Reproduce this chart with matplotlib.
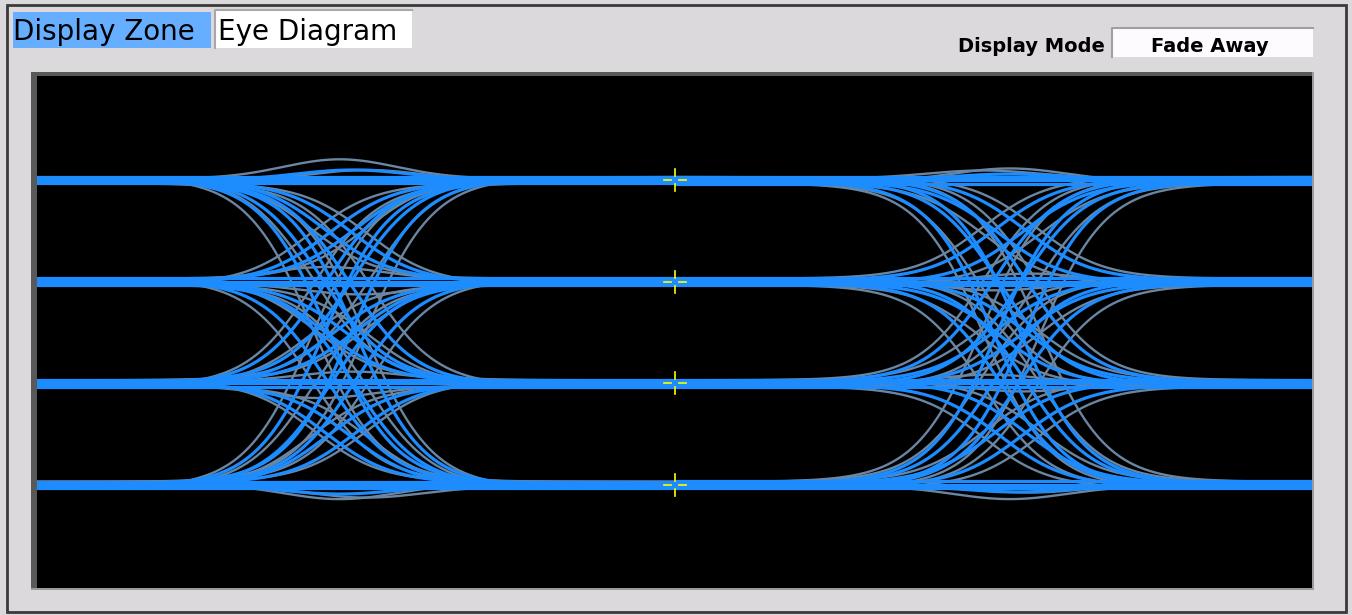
import matplotlib
matplotlib.use("Agg")
import matplotlib.pyplot as plt
from matplotlib.patches import Rectangle
import numpy as np

W, H = 1352, 615

# PAM4 levels (normalised amplitude), index 0 = lowest
levels = [-3.0, -1.0, 1.0, 3.0]
edge_times = [0.0, 1.0]          # the two crossings on screen, in UI
t_view = (-0.452, 1.451)
v_view = (-5.03, 5.05)
marker_t = 0.5                   # yellow sampling crosses
TAU = 0.05                       # edge time constant, UI

# traces through the first crossing, "ab" = level a -> level b
e1_path = ["33", "33", "33", "22", "22", "22", "11", "11", "11", "00", "00", "00",
           "32", "32", "31", "31", "30", "30", "23", "23", "21", "21", "20", "20",
           "13", "13", "12", "12", "10", "10", "03", "03", "02", "02", "01", "01", "33", "00",
           "33", "33", "22", "22", "11", "11", "00", "00",
           "32", "31", "30", "23", "21", "20", "13", "12", "10", "03", "02", "01",
           "32", "31", "30", "23", "21", "20", "13", "12", "10", "03", "02", "01"]
e1_shift = [0, 0, 0, 0, 0, 0, 0, 0, 0, 0, 0, 0,
            -0.022, 0.018, -0.025, 0.015, -0.018, 0.024, -0.015, 0.022, -0.024, 0.012, -0.018, 0.022,
            -0.022, 0.018, -0.012, 0.024, -0.022, 0.015, -0.024, 0.018, -0.015, 0.022, -0.018, 0.024, 0.02, 0.0,
            0.00, 0.04, -0.02, 0.03, 0.02, -0.03, 0.00, 0.04,
            -0.045, -0.040, -0.040, -0.045, -0.038, -0.042, -0.040, -0.045, -0.038, -0.042, -0.040, -0.045,
            0.042, 0.045, 0.038, 0.040, 0.044, 0.040, 0.045, 0.038, 0.042, 0.040, 0.045, 0.040]
e1_off = [0, 0.07, -0.06, 0, 0.07, -0.06, 0, 0.06, -0.07, 0, 0.06, -0.07,
          0.03, -0.03, 0.03, -0.03, 0.03, -0.03, -0.03, 0.03, 0.03, -0.03, 0.03, -0.03,
          -0.03, 0.03, -0.03, 0.03, 0.03, -0.03, -0.03, 0.03, -0.03, 0.03, -0.03, 0.03, 0, 0,
          0.03, -0.02, 0.04, -0.03, 0.03, -0.04, 0.02, -0.03,
          0.06, 0.06, 0.06, -0.06, 0.06, 0.06, -0.06, -0.06, 0.06, -0.06, -0.06, -0.06,
          -0.06, -0.06, -0.06, 0.06, -0.06, -0.06, 0.06, 0.06, -0.06, 0.06, 0.06, 0.06]
e1_bump = [0, 0, 0, 0, 0, 0, 0, 0, 0, 0, 0, 0,
           0, 0, 0, 0, 0, 0, 0, 0, 0, 0, 0, 0,
           0, 0, 0, 0, 0, 0, 0, 0, 0, 0, 0, 0, 0.2, -0.18,
           0.38, 0.22, 0.25, -0.22, 0.2, -0.25, -0.30, -0.22,
           0, 0, 0, 0, 0, 0, 0, 0, 0, 0, 0, 0,
           0, 0, 0, 0, 0, 0, 0, 0, 0, 0, 0, 0]

# traces through the second crossing
e2_path = e1_path
e2_shift = [0, 0, 0, 0, 0, 0, 0, 0, 0, 0, 0, 0,
            -0.018, 0.022, -0.015, 0.024, -0.024, 0.015, -0.022, 0.018, -0.018, 0.022, -0.012, 0.024,
            -0.024, 0.015, -0.022, 0.018, -0.015, 0.024, -0.018, 0.022, -0.024, 0.012, -0.022, 0.018, 0.0, 0.01,
            0.00, -0.04, 0.03, -0.02, -0.03, 0.02, 0.00, 0.03,
            -0.040, -0.044, -0.038, -0.042, -0.045, -0.040, -0.038, -0.044, -0.040, -0.042, -0.045, -0.038,
            0.040, 0.038, 0.044, 0.045, 0.040, 0.042, 0.038, 0.040, 0.045, 0.044, 0.040, 0.042]
e2_off = [0, 0.06, -0.07, 0, 0.07, -0.06, 0, 0.06, -0.07, 0, 0.07, -0.06,
          -0.03, 0.03, -0.03, 0.03, -0.03, 0.03, 0.03, -0.03, -0.03, 0.03, -0.03, 0.03,
          0.03, -0.03, 0.03, -0.03, -0.03, 0.03, 0.03, -0.03, 0.03, -0.03, 0.03, -0.03, 0, 0,
          -0.03, 0.03, -0.04, 0.03, -0.03, 0.04, -0.02, 0.03,
          -0.06, -0.06, -0.06, 0.06, -0.06, -0.06, 0.06, 0.06, -0.06, 0.06, 0.06, 0.06,
          0.06, 0.06, 0.06, -0.06, 0.06, 0.06, -0.06, -0.06, 0.06, -0.06, -0.06, -0.06]
e2_bump = [0, 0, 0, 0, 0, 0, 0, 0, 0, 0, 0, 0,
           0, 0, 0, 0, 0, 0, 0, 0, 0, 0, 0, 0,
           0, 0, 0, 0, 0, 0, 0, 0, 0, 0, 0, 0, 0.12, -0.14,
           0.26, 0.16, 0.2, -0.2, 0.2, -0.2, -0.26, -0.18,
           0, 0, 0, 0, 0, 0, 0, 0, 0, 0, 0, 0,
           0, 0, 0, 0, 0, 0, 0, 0, 0, 0, 0, 0]

# 0 = newest sweep (blue), 1 = faded sweep (grey)
trace_age = [0, 0, 0, 0, 0, 0, 0, 0, 0, 0, 0, 0,
             0, 0, 0, 0, 0, 0, 0, 0, 0, 0, 0, 0,
             0, 0, 0, 0, 0, 0, 0, 0, 0, 0, 0, 0, 0, 0,
             1, 1, 1, 1, 1, 1, 1, 1,
             1, 1, 1, 1, 1, 1, 1, 1, 1, 1, 1, 1,
             1, 1, 1, 1, 1, 1, 1, 1, 1, 1, 1, 1]

BLUE = "#1C8CFF"
GREY = "#6A86A2"
PANEL = "#DCD9DC"


def draw_edge(ax, t_edge, paths, shifts, offs, bumps, age):
    t = np.linspace(t_edge - 0.5, t_edge + 0.5, 400)
    for p, s, o, b, g in zip(paths, shifts, offs, bumps, trace_age):
        if g != age:
            continue
        a = levels[int(p[0])] + o
        z = levels[int(p[1])] + o
        u = t - t_edge - s
        v = a + (z - a) / (1 + np.exp(-u / TAU)) + b * np.exp(-(u / 0.12) ** 2)
        if g:
            ax.plot(t, v, color=GREY, lw=1.7, solid_capstyle="butt")
        else:
            ax.plot(t, v, color=BLUE, lw=2.3, solid_capstyle="butt")


fig = plt.figure(figsize=(W / 100, H / 100), dpi=100)
fig.patch.set_facecolor(PANEL)

# window furniture, drawn in pixel coordinates
bg = fig.add_axes([0, 0, 1, 1])
bg.set_xlim(0, W)
bg.set_ylim(H, 0)
bg.axis("off")
bg.add_patch(Rectangle((7, 5), 1339, 607, fill=False, edgecolor="#3A3A3A", lw=2.0))
bg.add_patch(Rectangle((31, 72), 1283, 518, facecolor="#9A9A9A", edgecolor="none"))
bg.add_patch(Rectangle((31, 72), 6, 516, facecolor="#595959", edgecolor="none"))
bg.add_patch(Rectangle((31, 72), 1281, 4, facecolor="#595959", edgecolor="none"))

bg.add_patch(Rectangle((13, 12), 198, 36, facecolor="#66AEFF", edgecolor="none"))
bg.add_patch(Rectangle((215, 10), 197, 38, facecolor="white", edgecolor="none"))
bg.plot([215, 215, 412], [48, 10, 10], color="#A8A8A8", lw=1.5)
bg.text(13, 40, "Display Zone", fontsize=20, color="black", va="baseline", ha="left")
bg.text(218, 40, "Eye Diagram", fontsize=20, color="black", va="baseline", ha="left")

bg.add_patch(Rectangle((1112, 28), 201, 29, facecolor="#FDFBFD", edgecolor="none"))
bg.plot([1112, 1112, 1313], [57, 28, 28], color="#A0A0A0", lw=1.5)
bg.text(1105, 52, "Display Mode", fontsize=14, fontweight="bold", va="baseline", ha="right")
bg.text(1210, 52, "Fade Away", fontsize=14, fontweight="bold", va="baseline", ha="center")

# eye display
ax = fig.add_axes([37 / W, 1 - 588 / H, 1275 / W, 512 / H])
ax.set_facecolor("black")
ax.set_xlim(*t_view)
ax.set_ylim(*v_view)
ax.set_xticks([])
ax.set_yticks([])
for sp in ax.spines.values():
    sp.set_visible(False)

edges = [(e1_path, e1_shift, e1_off, e1_bump),
         (e2_path, e2_shift, e2_off, e2_bump)]
for age in (1, 0):
    for t_edge, data in zip(edge_times, edges):
        draw_edge(ax, t_edge, *data, age)

# sampling crosses at the eye centre of each level
px_t = (t_view[1] - t_view[0]) / 1275
px_v = (v_view[1] - v_view[0]) / 512
for lv in levels:
    ax.plot([marker_t, marker_t], [lv + 4 * px_v, lv + 11 * px_v], color="yellow", lw=1.2)
    ax.plot([marker_t, marker_t], [lv - 4 * px_v, lv - 11 * px_v], color="yellow", lw=1.2)
    ax.plot([marker_t - 11 * px_t, marker_t - 4 * px_t], [lv, lv], color="yellow", lw=1.2)
    ax.plot([marker_t + 4 * px_t, marker_t + 11 * px_t], [lv, lv], color="yellow", lw=1.2)

fig.savefig("out.png", dpi=100, facecolor=PANEL)
